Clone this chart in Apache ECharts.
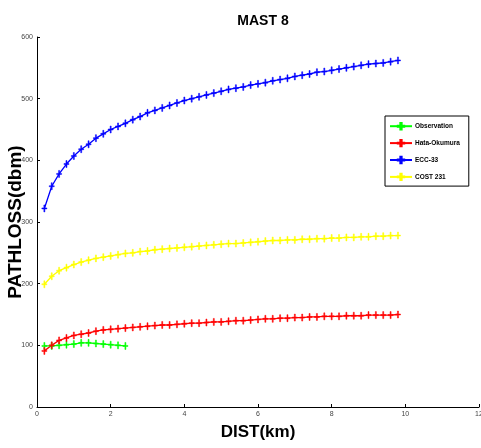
<!DOCTYPE html>
<html>
<head>
    <meta charset="utf-8">
    <title>MAST 8</title>
    <script src="https://cdn.jsdelivr.net/npm/echarts@6/dist/echarts.min.js"></script>
    <style>
        html, body { margin: 0; padding: 0; background: #fff; }
        #main { width: 481px; height: 448px; }
    </style>
</head>
<body>
<div id="main"></div>
<script type="text/javascript">
    // distances (km), every 0.2 from 0.2 to 9.8
    var dist = [0.2, 0.4, 0.6, 0.8, 1.0, 1.2, 1.4, 1.6, 1.8, 2.0,
        2.2, 2.4, 2.6, 2.8, 3.0, 3.2, 3.4, 3.6, 3.8, 4.0,
        4.2, 4.4, 4.6, 4.8, 5.0, 5.2, 5.4, 5.6, 5.8, 6.0,
        6.2, 6.4, 6.6, 6.8, 7.0, 7.2, 7.4, 7.6, 7.8, 8.0,
        8.2, 8.4, 8.6, 8.8, 9.0, 9.2, 9.4, 9.6, 9.8];

    // only measured up to 2.4 km
    var observation = [99, 99, 100, 101, 102, 104, 104, 103, 102, 101, 100, 99];

    var hataOkumura = [91, 100, 108, 112, 116, 118, 120, 123, 125, 126,
        127, 128, 129, 130, 131, 132, 133, 133, 134, 135,
        136, 136, 137, 138, 138, 139, 140, 140, 141, 142,
        143, 143, 144, 144, 145, 145, 146, 146, 147, 147,
        147, 148, 148, 148, 149, 149, 149, 149, 150];

    var ecc33 = [322, 358, 378, 394, 407, 418, 426, 436, 443, 450,
        455, 460, 466, 471, 477, 481, 485, 489, 493, 497,
        500, 503, 506, 509, 512, 515, 517, 519, 522, 524,
        526, 529, 531, 533, 536, 538, 540, 543, 544, 546,
        548, 550, 552, 554, 556, 557, 558, 560, 562];

    var cost231 = [199, 212, 221, 226, 231, 235, 238, 241, 243, 245,
        247, 249, 250, 252, 253, 255, 256, 257, 258, 259,
        260, 261, 262, 263, 264, 265, 265, 266, 267, 268,
        269, 270, 270, 271, 271, 272, 272, 273, 273, 274,
        274, 275, 275, 276, 276, 277, 277, 278, 278];

    var seriesNames = ['Observation', 'Hata-Okumura', 'ECC-33', 'COST 231'];
    var seriesColors = ['#00ff00', '#ff0000', '#0000ff', '#ffff00'];
    var seriesValues = [observation, hataOkumura, ecc33, cost231];

    var plusMark = 'path://M2,0h1v3h2v1h-2v3h-1v-3h-2v-1h2z';
    var smallFont = 'Liberation Sans Narrow, Liberation Sans, Arial';

    var myChart = echarts.init(document.getElementById('main'));

    var series = seriesNames.map(function (name, i) {
        return {
            name: name,
            type: 'line',
            data: seriesValues[i].map(function (v, j) { return [dist[j], v]; }),
            symbol: plusMark,
            symbolSize: [5, 7],
            showAllSymbol: true,
            lineStyle: { color: seriesColors[i], width: 1.3 },
            itemStyle: { color: seriesColors[i], borderColor: seriesColors[i], borderWidth: 0.5 },
            animation: false
        };
    });

    var option = {
        backgroundColor: '#fff',
        title: {
            text: 'MAST 8',
            left: 258,
            top: 9,
            textAlign: 'center',
            textStyle: { fontFamily: 'Liberation Sans, Arial', fontSize: 14, fontWeight: 'bold', color: '#000' }
        },
        grid: { left: 37, right: 2, top: 37, bottom: 41, containLabel: false, outerBoundsMode: 'none' },
        legend: {
            data: seriesNames,
            orient: 'vertical',
            left: 385,
            top: 116,
            padding: [6, 9, 5, 4],
            itemGap: 8.5,
            itemWidth: 22,
            itemHeight: 8,
            borderColor: '#000',
            borderWidth: 1,
            backgroundColor: '#fff',
            textStyle: { fontFamily: smallFont, fontSize: 6.5, fontWeight: 'bold', color: '#000', padding: [0, 0, 0, -2] }
        },
        xAxis: {
            type: 'value',
            min: 0,
            max: 12,
            interval: 2,
            name: 'DIST(km)',
            nameLocation: 'middle',
            nameGap: 17,
            nameMoveOverlap: false,
            nameTextStyle: { fontFamily: 'Liberation Sans Narrow, Liberation Sans', fontSize: 17, fontWeight: 'bold', color: '#000' },
            axisLine: { onZero: false, lineStyle: { color: '#000', width: 1 } },
            axisTick: { inside: true, length: 3, lineStyle: { color: '#000' } },
            axisLabel: { fontFamily: smallFont, fontSize: 7, color: '#444', margin: 4 },
            splitLine: { show: false }
        },
        yAxis: {
            type: 'value',
            min: 0,
            max: 600,
            interval: 100,
            name: 'PATHLOSS(dbm)',
            nameLocation: 'middle',
            nameGap: 12,
            nameMoveOverlap: false,
            nameTextStyle: { fontFamily: 'Liberation Sans, Arial', fontSize: 19, fontWeight: 'bold', color: '#000' },
            axisLine: { show: true, onZero: false, lineStyle: { color: '#000', width: 1 } },
            axisTick: { show: true, inside: true, length: 3, lineStyle: { color: '#000' } },
            axisLabel: { fontFamily: smallFont, fontSize: 7, color: '#444', margin: 4 },
            splitLine: { show: false }
        },
        series: series
    };
    myChart.setOption(option);
</script>
</body>
</html>
